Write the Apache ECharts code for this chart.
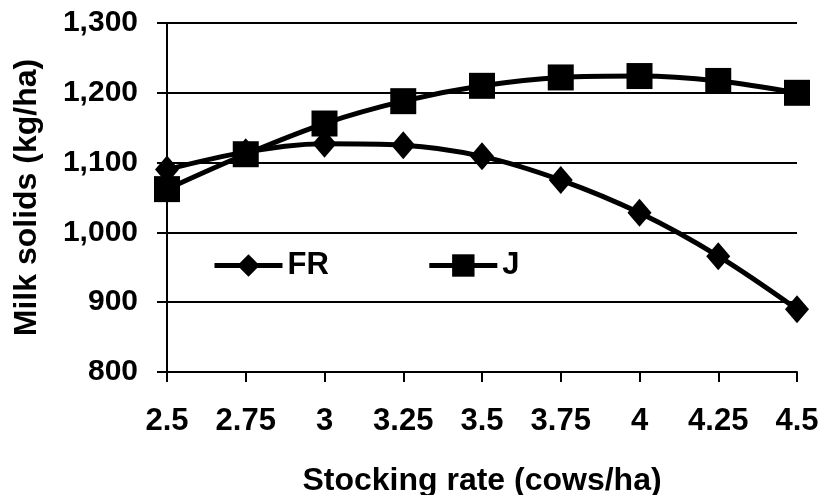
<!DOCTYPE html>
<html>
<head>
<meta charset="utf-8">
<script src="https://cdn.jsdelivr.net/npm/echarts@6/dist/echarts.min.js"></script>
<style>
  html, body { margin: 0; padding: 0; background: #fff; }
  #chart { width: 821px; height: 495px; }
</style>
</head>
<body>
<div id="chart"></div>
<script>
// Stocking rate (cows/ha) on the x axis
const stockingRates = ['2.5', '2.75', '3', '3.25', '3.5', '3.75', '4', '4.25', '4.5'];
// Milk solids (kg/ha) per breed
const frValues = [1090, 1115, 1127, 1125, 1109, 1075, 1028, 966, 890];
const jValues = [1062, 1112, 1156, 1188, 1210, 1222, 1224, 1217, 1200];

const FONT = '"Liberation Sans", Arial, sans-serif';

const chart = echarts.init(document.getElementById('chart'));
chart.setOption({
  animation: false,
  backgroundColor: '#fff',
  textStyle: { fontFamily: FONT, color: '#000' },
  grid: { left: 167, right: 24, top: 23, bottom: 123, containLabel: false, outerBoundsMode: 'none' },
  legend: {
    left: 212,
    top: 250,
    padding: 0,
    itemWidth: 68,
    itemHeight: 28,
    itemGap: 98,
    lineStyle: { width: 5, color: '#000' },
    textStyle: { fontFamily: FONT, fontWeight: 'bold', fontSize: 31, color: '#000' },
    data: ['FR', 'J']
  },
  xAxis: {
    type: 'category',
    data: stockingRates,
    boundaryGap: false,
    name: 'Stocking rate (cows/ha)',
    nameLocation: 'middle',
    nameGap: 93,
    nameTextStyle: { fontFamily: FONT, fontWeight: 'bold', fontSize: 32, color: '#000' },
    axisLine: { show: true, lineStyle: { color: '#000', width: 2 } },
    axisTick: { show: true, inside: false, length: 10, alignWithLabel: true, lineStyle: { color: '#000', width: 2 } },
    axisLabel: { fontFamily: FONT, fontWeight: 'bold', fontSize: 31, color: '#000', margin: 34 },
    splitLine: { show: false }
  },
  yAxis: {
    type: 'value',
    min: 800,
    max: 1300,
    interval: 100,
    name: 'Milk solids (kg/ha)',
    nameLocation: 'middle',
    nameGap: 124,
    nameRotate: 90,
    nameTextStyle: { fontFamily: FONT, fontWeight: 'bold', fontSize: 32, color: '#000' },
    axisLine: { show: true, lineStyle: { color: '#000', width: 2 } },
    axisTick: { show: true, inside: false, length: 10, lineStyle: { color: '#000', width: 2 } },
    axisLabel: {
      fontFamily: FONT, fontWeight: 'bold', fontSize: 30, color: '#000', margin: 29,
      formatter: v => v.toLocaleString('en-US')
    },
    splitLine: { show: true, lineStyle: { color: '#000', width: 2 } }
  },
  series: [
    {
      name: 'FR',
      type: 'line',
      data: frValues,
      smooth: 0.35,
      symbol: 'diamond',
      symbolSize: [24, 28],
      itemStyle: { color: '#000' },
      lineStyle: { color: '#000', width: 5 }
    },
    {
      name: 'J',
      type: 'line',
      data: jValues,
      smooth: 0.35,
      symbol: 'rect',
      symbolSize: 26,
      itemStyle: { color: '#000', borderRadius: 2 },
      lineStyle: { color: '#000', width: 5 }
    }
  ]
});
</script>
</body>
</html>
